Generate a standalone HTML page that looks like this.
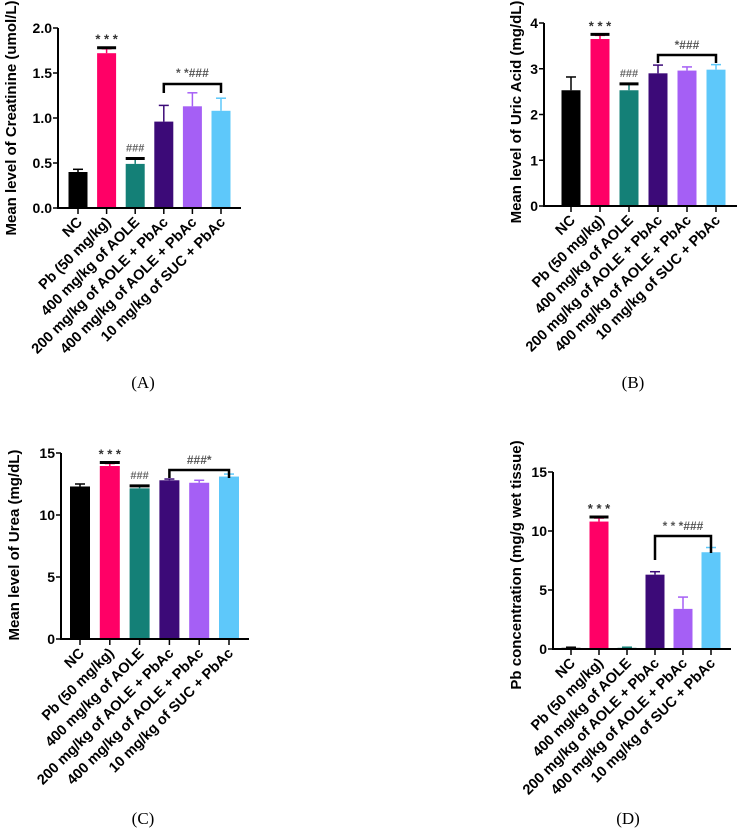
<!DOCTYPE html>
<html><head><meta charset="utf-8"><style>
body{margin:0;background:#fff;width:740px;height:831px;overflow:hidden}
svg text{font-family:"Liberation Sans",sans-serif;font-weight:bold}
.cap{font-family:"Liberation Serif",serif;font-weight:normal;font-size:17px}
</style></head><body>
<svg id="fig" width="740" height="831" xmlns="http://www.w3.org/2000/svg"></svg>
<script>
const categories = ["NC","Pb (50 mg/kg)","400 mg/kg of AOLE","200 mg/kg of AOLE + PbAc","400 mg/kg of AOLE + PbAc","10 mg/kg of SUC + PbAc"];
const colors = ["#000000","#ff0066","#148077","#3c0a78","#a55ff5","#5ec8fa"];
const creatinineMeans = [0.40,1.72,0.49,0.96,1.13,1.08];
const creatinineErr = [0.03,0.05,0.06,0.18,0.15,0.14];
const creatinineTicks = ["0.0","0.5","1.0","1.5","2.0"];
const uricMeans = [2.53,3.65,2.53,2.90,2.96,2.98];
const uricErr = [0.29,0.08,0.14,0.18,0.08,0.11];
const uricTicks = ["0","1","2","3","4"];
const ureaMeans = [12.3,13.95,12.15,12.8,12.6,13.1];
const ureaErr = [0.2,0.2,0.2,0.1,0.2,0.2];
const ureaTicks = ["0","5","10","15"];
const pbMeans = [0.1,10.8,0.1,6.3,3.4,8.2];
const pbErr = [0.05,0.3,0.05,0.25,1.0,0.4];
const pbTicks = ["0","5","10","15"];

const NS="http://www.w3.org/2000/svg";
const svg=document.getElementById('fig');
function mk(tag,attrs,parent){const e=document.createElementNS(NS,tag);for(const k in attrs)e.setAttribute(k,attrs[k]);(parent||svg).appendChild(e);return e;}

const panels=[
 {name:'creatinine',means:creatinineMeans,err:creatinineErr,ticks:creatinineTicks,max:2,ax:58,y0:208,ytop:28,xend:241,x0:78,step:28.6,bw:19,title:'Mean level of Creatinine (umol/L)',tx:16,ty:118,cap:'(A)',cx:143,cy:388,
  star:'* * *',hash:'###',br:[3,5],brY:84,brDrop:[9,9],brLabel:'* *###',brLabY:77},
 {name:'uric-acid',means:uricMeans,err:uricErr,ticks:uricTicks,max:4,ax:544,y0:206,ytop:23,xend:737,x0:571,step:29,bw:19,title:'Mean level of Uric Acid (mg/dL)',tx:521,ty:112,cap:'(B)',cx:633,cy:388,
  star:'* * *',hash:'###',br:[3,5],brY:55,brDrop:[8,8],brLabel:'*###',brLabY:49},
 {name:'urea',means:ureaMeans,err:ureaErr,ticks:ureaTicks,max:15,ax:61,y0:639,ytop:453,xend:249,x0:80,step:29.8,bw:20,title:'Mean level of Urea (mg/dL)',tx:19,ty:545,cap:'(C)',cx:143,cy:824,
  star:'* * *',hash:'###',br:[3,5],brY:470,brDrop:[8,8],brLabel:'###*',brLabY:464},
 {name:'pb-concentration',means:pbMeans,err:pbErr,ticks:pbTicks,max:15,ax:553,y0:649,ytop:472,xend:731,x0:571,step:28,bw:19,title:'Pb concentration (mg/g wet tissue)',tx:521,ty:565,cap:'(D)',cx:628,cy:824,
  star:'* * *',hash:null,br:[3,5],brY:536,brDrop:[24,17],brLabel:'* * *###',brLabY:530}
];

panels.forEach(p=>{
  const g=mk('g',{});
  
  
  const ys=v=>p.y0-(v/p.max)*(p.y0-p.ytop);
  const xs=i=>p.x0+i*p.step;
  const ya=mk('line',{x1:p.ax,y1:p.ytop,x2:p.ax,y2:p.y0+1,stroke:'#000','stroke-width':2},g);
  
  
  p.ticks.forEach(t=>{
    const y=ys(parseFloat(t));
    mk('line',{x1:p.ax-5,y1:y,x2:p.ax,y2:y,stroke:'#000','stroke-width':1.5},g);
    const tt=mk('text',{x:p.ax-6,y:y+5,'text-anchor':'end','font-size':14},g);
    tt.textContent=t;
    
    
  });
  const yt=mk('text',{x:p.tx,y:p.ty,'text-anchor':'middle','font-size':15,transform:`rotate(-90 ${p.tx} ${p.ty})`},g);
  yt.textContent=p.title;
  
  
  p.means.forEach((m,i)=>{
    const x=xs(i);
    const top=ys(m+p.err[i]);
    mk('line',{x1:x,y1:ys(m),x2:x,y2:top,stroke:colors[i],'stroke-width':1.5},g);
    mk('line',{x1:x-5,y1:top,x2:x+5,y2:top,stroke:colors[i],'stroke-width':1.5},g);
    const r=mk('rect',{x:x-p.bw/2,y:ys(m),width:p.bw,height:p.y0-ys(m),fill:colors[i]},g);
    
    
    mk('line',{x1:x,y1:p.y0,x2:x,y2:p.y0+6,stroke:'#000','stroke-width':1.5},g);
    const lx=x+5,ly=p.y0+15;
    const lt=mk('text',{x:lx,y:ly,'text-anchor':'end','font-size':14.5,transform:`rotate(-45 ${lx} ${ly})`},g);
    lt.textContent=categories[i];
    
    
  });
  const xa=mk('line',{x1:p.ax-1,y1:p.y0,x2:p.xend,y2:p.y0,stroke:'#000','stroke-width':2},g);
  
  
  const pbTop=ys(p.means[1]+p.err[1]);
  mk('line',{x1:xs(1)-p.bw/2,y1:pbTop-1,x2:xs(1)+p.bw/2,y2:pbTop-1,stroke:'#000','stroke-width':3},g);
  const st=mk('text',{x:xs(1),y:pbTop-5,'text-anchor':'middle','font-size':13,fill:'#333'},g);
  st.textContent=p.star;
  
  
  if(p.hash){
    const t2=ys(p.means[2]+p.err[2]);
    mk('line',{x1:xs(2)-p.bw/2,y1:t2,x2:xs(2)+p.bw/2,y2:t2,stroke:'#000','stroke-width':3},g);
    const ht=mk('text',{x:xs(2),y:t2-7,'text-anchor':'middle','font-size':11,'font-weight':'normal',fill:'#666'},g);
    ht.textContent=p.hash;
    
    
  }
  const bx1=xs(p.br[0]),bx2=xs(p.br[1]);
  const bp=mk('path',{d:`M${bx1} ${p.brY+p.brDrop[0]}V${p.brY}H${bx2}V${p.brY+p.brDrop[1]}`,fill:'none',stroke:'#000','stroke-width':2.5},g);
  
  
  const bl=mk('text',{x:(bx1+bx2)/2,y:p.brLabY,'text-anchor':'middle','font-size':12,fill:'#555'},g);
  bl.textContent=p.brLabel;
  
  
  const c=mk('text',{x:p.cx,y:p.cy,'text-anchor':'middle',class:'cap'},g);
  c.textContent=p.cap;
  
  
});
</script>
</body></html>
